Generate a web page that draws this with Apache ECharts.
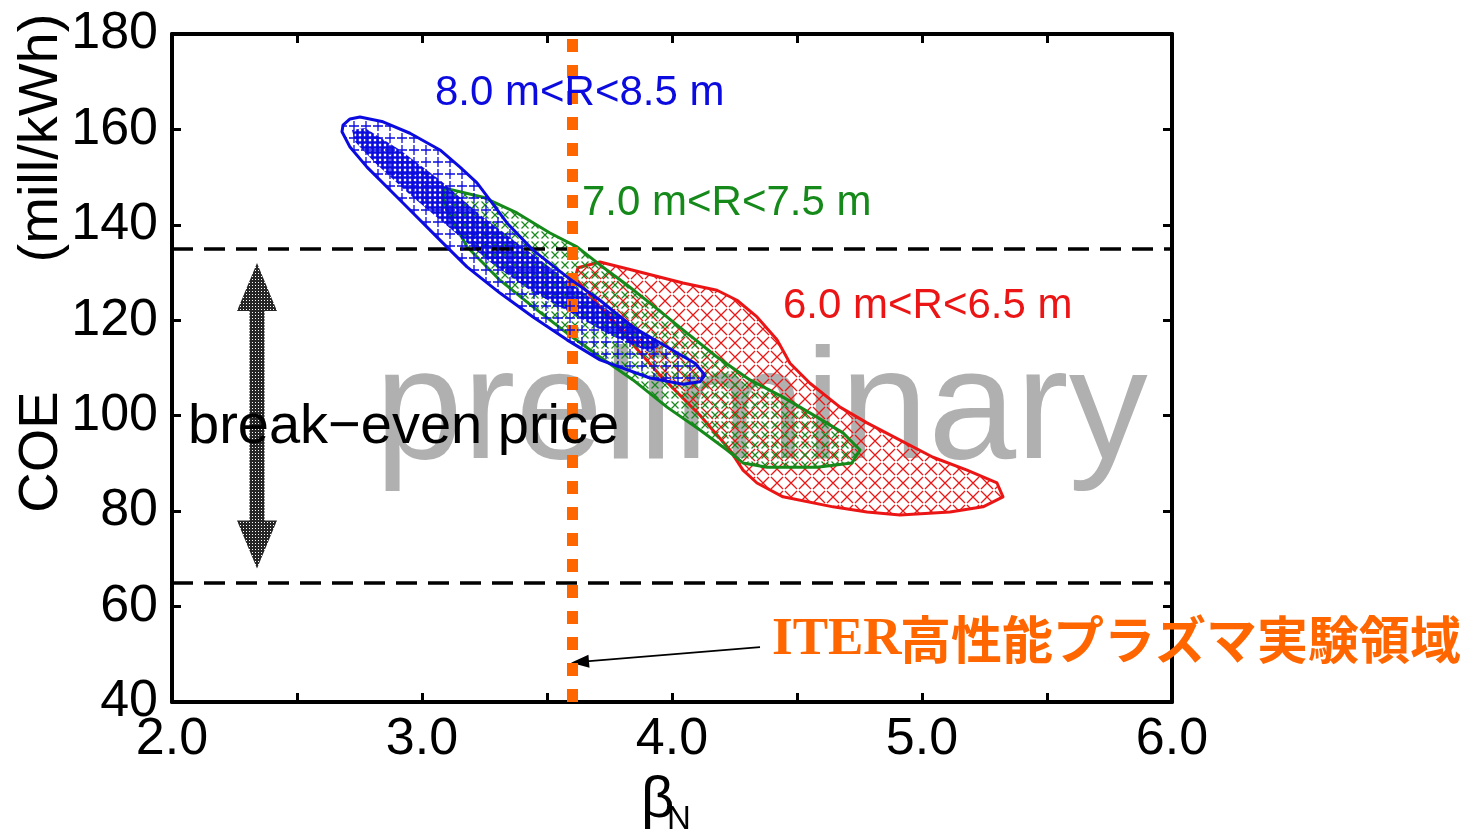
<!DOCTYPE html>
<html>
<head>
<meta charset="utf-8">
<title>COE vs βN</title>
<script src="https://cdn.jsdelivr.net/npm/echarts@6/dist/echarts.min.js"></script>
<style>
  html, body { margin: 0; padding: 0; background: #ffffff; }
  #main { width: 1480px; height: 833px; }
</style>
</head>
<body>
<div id="main"></div>
<script>
// Axis ranges and tick steps
const xRange = [2.0, 6.0];
const xStep = 0.5;
const yRange = [40, 180];
const yStep = 20;

// Scan regions (beta_N, COE in mill/kWh) for three major-radius bands
const regionNames = ['8.0 m<R<8.5 m', '7.0 m<R<7.5 m', '6.0 m<R<6.5 m'];

const blueOutline = [
  [2.684, 160.9], [2.712, 162.2], [2.752, 162.6], [2.844, 161.6], [2.952, 159.2],
  [3.072, 155.7], [3.152, 152.1], [3.220, 148.8], [3.272, 145.2], [3.340, 140.4],
  [3.444, 134.7], [3.580, 129.1], [3.712, 124.2], [3.844, 118.6], [3.980, 114.4],
  [4.092, 111.0], [4.132, 108.5], [4.112, 107.1], [4.044, 106.6], [3.912, 107.9],
  [3.712, 111.7], [3.580, 115.9], [3.444, 120.7], [3.312, 125.7], [3.180, 131.2],
  [3.072, 136.8], [2.912, 145.2], [2.780, 152.1], [2.712, 156.3], [2.680, 159.5]
];

// densest band of the 8.0-8.5 m cases
const blueCore = [
  [2.720, 159.9], [2.772, 160.3], [2.912, 155.7], [3.072, 149.4], [3.232, 142.1],
  [3.392, 135.8], [3.552, 129.5], [3.712, 123.2], [3.872, 118.0], [3.952, 114.8],
  [3.912, 113.3], [3.752, 116.9], [3.592, 121.7], [3.432, 126.3], [3.272, 132.2],
  [3.112, 139.3], [2.952, 146.3], [2.812, 153.0], [2.732, 157.4]
];

const greenOutline = [
  [3.092, 147.7], [3.244, 145.8], [3.380, 142.5], [3.512, 138.3], [3.620, 135.4],
  [3.712, 131.6], [3.820, 127.4], [3.912, 123.6], [4.044, 118.0], [4.180, 112.3],
  [4.312, 107.5], [4.444, 103.9], [4.580, 99.7], [4.684, 96.4], [4.752, 92.8],
  [4.720, 90.1], [4.580, 89.2], [4.380, 89.2], [4.284, 90.1], [4.220, 92.8],
  [4.112, 97.0], [3.980, 101.8], [3.844, 107.5], [3.712, 112.3], [3.580, 117.3],
  [3.444, 122.8], [3.312, 128.4], [3.180, 135.4], [3.100, 143.1], [3.084, 146.3]
];

const redOutline = [
  [3.624, 131.0], [3.712, 132.2], [3.844, 130.5], [4.044, 127.8], [4.180, 126.3],
  [4.260, 124.2], [4.340, 120.7], [4.420, 115.9], [4.472, 111.0], [4.552, 106.8],
  [4.672, 101.8], [4.780, 98.5], [4.912, 94.9], [5.044, 91.3], [5.180, 88.6],
  [5.300, 85.9], [5.324, 83.0], [5.244, 80.9], [5.112, 79.8], [4.912, 79.2],
  [4.780, 79.8], [4.644, 80.9], [4.444, 83.0], [4.340, 85.9], [4.284, 88.6],
  [4.232, 92.8], [4.112, 100.1], [3.952, 108.5], [3.792, 118.0], [3.672, 125.3],
  [3.612, 128.9]
];

// Break-even price band, ITER high-performance beta_N, annotation arrows
const thresholds = [135, 65];
const iterBetaN = 3.6;
const breakEvenArrow = [2.34, 132, 68];
const pointerFrom = [4.352, 51.5];
const pointerTo = [3.632, 48.4];

const BLUE = '#0b0be0';
const GREEN = '#15891a';
const RED = '#ec1515';
const ORANGE = '#ff6600';
const SANS = '"Liberation Sans", Arial, Helvetica, sans-serif';

// Repeating hatch tiles used to fill the regions
function markPattern(color, cell, arm, lw, kind) {
  const c = document.createElement('canvas');
  c.width = cell; c.height = cell;
  const g = c.getContext('2d');
  g.strokeStyle = color;
  g.lineWidth = lw;
  const m = cell / 2;
  g.beginPath();
  if (kind === 'plus') {
    g.moveTo(m - arm, m); g.lineTo(m + arm, m);
    g.moveTo(m, m - arm); g.lineTo(m, m + arm);
  } else {
    g.moveTo(m - arm, m - arm); g.lineTo(m + arm, m + arm);
    g.moveTo(m + arm, m - arm); g.lineTo(m - arm, m + arm);
  }
  g.stroke();
  return { image: c, repeat: 'repeat' };
}

// dark screen with small light holes, for the halftone arrow
function screenPattern(color, cell) {
  const c = document.createElement('canvas');
  c.width = cell; c.height = cell;
  const g = c.getContext('2d');
  g.fillStyle = color;
  g.fillRect(0, 0, cell, cell);
  g.clearRect(0, 0, 1, 1);
  return { image: c, repeat: 'repeat' };
}

function polygonSeries(name, points, fill, stroke, z) {
  return {
    name: name,
    type: 'custom',
    coordinateSystem: 'cartesian2d',
    silent: true,
    clip: true,
    z: z,
    data: [points[0]],
    renderItem: function (params, api) {
      return {
        type: 'polygon',
        shape: { points: points.map(function (p) { return api.coord(p); }) },
        style: {
          fill: fill,
          stroke: stroke || null,
          lineWidth: stroke ? 3 : 0,
          lineJoin: 'round'
        }
      };
    }
  };
}

const chart = echarts.init(document.getElementById('main'), null, { renderer: 'canvas' });

const axisLineStyle = { show: true, onZero: false, lineStyle: { color: '#000', width: 4 } };
const tickStyle = { show: true, inside: true, length: 9, lineStyle: { color: '#000', width: 3 } };

const option = {
  animation: false,
  backgroundColor: '#ffffff',
  grid: { left: 172, right: 308, top: 34, bottom: 131, containLabel: false },
  xAxis: [
    {
      type: 'value', min: xRange[0], max: xRange[1], interval: xStep, position: 'bottom',
      axisLine: axisLineStyle, axisTick: tickStyle, splitLine: { show: false },
      axisLabel: {
        color: '#000', fontSize: 52, fontFamily: SANS, margin: 12,
        showMinLabel: true, showMaxLabel: true,
        formatter: function (v) { return Number.isInteger(v) ? v.toFixed(1) : ''; }
      }
    },
    {
      type: 'value', min: xRange[0], max: xRange[1], interval: xStep, position: 'top',
      axisLine: axisLineStyle, axisTick: tickStyle, splitLine: { show: false },
      axisLabel: { show: false }
    }
  ],
  yAxis: [
    {
      type: 'value', min: yRange[0], max: yRange[1], interval: yStep, position: 'left',
      axisLine: axisLineStyle, axisTick: tickStyle, splitLine: { show: false },
      axisLabel: { color: '#000', fontSize: 52, fontFamily: SANS, margin: 14, showMinLabel: true, showMaxLabel: true }
    },
    {
      type: 'value', min: yRange[0], max: yRange[1], interval: yStep, position: 'right',
      axisLine: axisLineStyle, axisTick: tickStyle, splitLine: { show: false },
      axisLabel: { show: false }
    }
  ],
  series: [
    polygonSeries('6.0-6.5 m', redOutline, markPattern(RED, 14, 6, 1.3, 'x'), RED, 2),
    polygonSeries('7.0-7.5 m', greenOutline, markPattern(GREEN, 10, 3.5, 1.2, 'x'), GREEN, 3),
    polygonSeries('8.0-8.5 m core', blueCore, markPattern(BLUE, 5, 2.5, 2.6, 'plus'), null, 4),
    polygonSeries('8.0-8.5 m', blueOutline, markPattern(BLUE, 12, 5, 1.3, 'plus'), BLUE, 5),
    {
      name: 'break-even arrow',
      type: 'custom',
      coordinateSystem: 'cartesian2d',
      silent: true,
      z: 6,
      data: [breakEvenArrow],
      renderItem: function (params, api) {
        const t = api.coord([api.value(0), api.value(1)]);
        const b = api.coord([api.value(0), api.value(2)]);
        const hw = 7.5, hh = 20, hl = 48;
        return {
          type: 'polygon',
          shape: {
            points: [
              [t[0], t[1]], [t[0] + hh, t[1] + hl], [t[0] + hw, t[1] + hl],
              [b[0] + hw, b[1] - hl], [b[0] + hh, b[1] - hl], [b[0], b[1]],
              [b[0] - hh, b[1] - hl], [b[0] - hw, b[1] - hl],
              [t[0] - hw, t[1] + hl], [t[0] - hh, t[1] + hl]
            ]
          },
          style: { fill: screenPattern('#262626', 3), stroke: null }
        };
      }
    },
    {
      name: 'break-even band',
      type: 'line',
      data: [],
      z: 7,
      silent: true,
      markLine: {
        silent: true,
        symbol: 'none',
        label: { show: false },
        lineStyle: { color: '#000', width: 3.5, type: [21, 11] },
        data: thresholds.map(function (v) { return { yAxis: v }; })
      }
    },
    {
      name: 'ITER pointer',
      type: 'line',
      data: [],
      z: 150,
      silent: true,
      markLine: {
        silent: true,
        symbol: ['none', 'triangle'],
        symbolSize: [13, 18],
        label: { show: false },
        lineStyle: { color: '#000', width: 1.6, type: 'solid' },
        data: [[{ coord: pointerFrom }, { coord: pointerTo }]]
      }
    },
    {
      name: 'ITER beta_N',
      type: 'line',
      data: [],
      z: 160,
      silent: true,
      markLine: {
        silent: true,
        symbol: 'none',
        label: { show: false },
        lineStyle: { color: ORANGE, width: 11, type: [13, 13] },
        data: [{ xAxis: iterBetaN }]
      }
    }
  ],
  graphic: [
    {
      type: 'text', z: 1, silent: true, x: 375, y: 414,
      style: { text: 'preliminary', font: '158px ' + SANS, fill: '#b0b0b0', textAlign: 'left', textVerticalAlign: 'middle' }
    },
    {
      type: 'text', z: 100, silent: true, x: 435, y: 93,
      style: { text: regionNames[0], font: '42px ' + SANS, fill: BLUE, textAlign: 'left', textVerticalAlign: 'middle' }
    },
    {
      type: 'text', z: 100, silent: true, x: 582, y: 203,
      style: { text: regionNames[1], font: '42px ' + SANS, fill: GREEN, textAlign: 'left', textVerticalAlign: 'middle' }
    },
    {
      type: 'text', z: 100, silent: true, x: 783, y: 306,
      style: { text: regionNames[2], font: '42px ' + SANS, fill: RED, textAlign: 'left', textVerticalAlign: 'middle' }
    },
    {
      type: 'text', z: 100, silent: true, x: 188, y: 428,
      style: { text: 'break\u2212even price', font: '56px ' + SANS, fill: '#000', textAlign: 'left', textVerticalAlign: 'middle' }
    },
    {
      type: 'text', z: 100, silent: true, x: 772, y: 640,
      style: { text: 'ITER', font: 'bold 53px "Liberation Serif", "Times New Roman", serif', fill: ORANGE, textAlign: 'left', textVerticalAlign: 'middle' }
    },
    {
      type: 'text', z: 100, silent: true, x: 900, y: 640,
      style: { text: '高性能プラズマ実験領域', font: 'bold 51px "Noto Sans CJK JP", sans-serif', fill: ORANGE, textAlign: 'left', textVerticalAlign: 'middle' }
    },
    {
      type: 'text', z: 100, silent: true, x: 42, y: 452, rotation: Math.PI / 2,
      style: { text: 'COE', font: '56px ' + SANS, fill: '#000', textAlign: 'center', textVerticalAlign: 'middle' }
    },
    {
      type: 'text', z: 100, silent: true, x: 42, y: 138, rotation: Math.PI / 2,
      style: { text: '(mill/kWh)', font: '56px ' + SANS, fill: '#000', textAlign: 'center', textVerticalAlign: 'middle' }
    },
    {
      type: 'text', z: 100, silent: true, x: 641, y: 801,
      style: { text: 'β', font: '58px ' + SANS, fill: '#000', textAlign: 'left', textVerticalAlign: 'middle' }
    },
    {
      type: 'text', z: 100, silent: true, x: 667, y: 820,
      style: { text: 'N', font: '33px ' + SANS, fill: '#000', textAlign: 'left', textVerticalAlign: 'middle' }
    }
  ]
};

chart.setOption(option);
</script>
</body>
</html>
